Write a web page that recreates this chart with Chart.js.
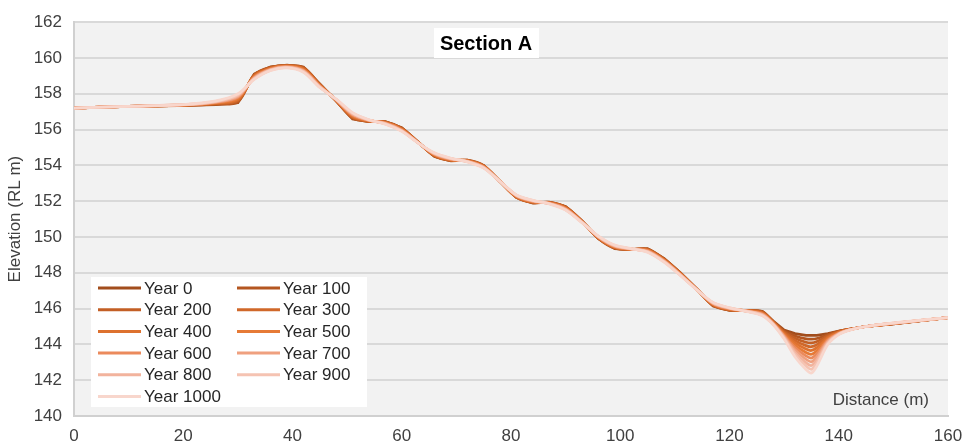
<!DOCTYPE html>
<html>
<head>
<meta charset="utf-8">
<title>Section A</title>
<script src="https://cdn.jsdelivr.net/npm/chart.js@4.4.0/dist/chart.umd.min.js"></script>
<style>
    html, body { margin: 0; padding: 0; background: #ffffff; }
    #wrap { width: 966px; height: 446px; position: relative; }
</style>
</head>
<body>
<div id="wrap"><canvas id="sectionChart"></canvas></div>
<script>
// chainage along the section (m)
const distances = [0, 10, 20, 26, 30, 33, 36, 39, 42, 45, 48, 51, 54, 57, 60, 63, 66, 69, 72, 75, 78, 81, 84, 87, 90, 93, 96, 99, 102, 105, 108, 111, 114, 117, 120, 123, 126, 128, 130, 132, 134, 135, 136, 138, 140, 142, 145, 150, 160];

// elevation (RL m) for each modelled year
const year0 = [157.2, 157.3, 157.35, 157.4, 157.5, 159.1, 159.5, 159.6, 159.5, 158.55, 157.6, 156.6, 156.45, 156.45, 156.1, 155.3, 154.5, 154.25, 154.3, 154.0, 153.1, 152.2, 151.9, 151.95, 151.7, 150.9, 149.9, 149.35, 149.3, 149.35, 148.8, 148.0, 147.1, 146.15, 145.9, 145.9, 145.85, 145.3, 144.8, 144.6, 144.5, 144.5, 144.5, 144.6, 144.75, 144.85, 145.0, 145.15, 145.5];
const year100 = [157.2, 157.3, 157.35, 157.42, 157.55, 159.07, 159.48, 159.59, 159.47, 158.53, 157.61, 156.64, 156.46, 156.44, 156.08, 155.3, 154.52, 154.27, 154.29, 153.99, 153.1, 152.22, 151.92, 151.94, 151.68, 150.89, 149.92, 149.37, 149.3, 149.33, 148.78, 147.99, 147.1, 146.17, 145.92, 145.9, 145.83, 145.28, 144.75, 144.47, 144.31, 144.29, 144.33, 144.54, 144.73, 144.85, 145.0, 145.15, 145.5];
const year200 = [157.2, 157.3, 157.36, 157.44, 157.6, 159.04, 159.46, 159.57, 159.44, 158.51, 157.62, 156.67, 156.47, 156.42, 156.06, 155.29, 154.54, 154.28, 154.28, 153.97, 153.1, 152.23, 151.93, 151.93, 151.66, 150.88, 149.93, 149.39, 149.31, 149.31, 148.76, 147.97, 147.09, 146.19, 145.93, 145.89, 145.8, 145.26, 144.7, 144.34, 144.12, 144.08, 144.16, 144.48, 144.71, 144.84, 145.0, 145.16, 145.5];
const year300 = [157.2, 157.3, 157.36, 157.46, 157.65, 159.01, 159.44, 159.56, 159.41, 158.49, 157.63, 156.71, 156.48, 156.41, 156.04, 155.29, 154.56, 154.3, 154.27, 153.96, 153.1, 152.25, 151.95, 151.92, 151.64, 150.87, 149.95, 149.41, 149.31, 149.29, 148.74, 147.96, 147.09, 146.21, 145.95, 145.89, 145.78, 145.24, 144.65, 144.21, 143.93, 143.87, 143.99, 144.42, 144.69, 144.84, 145.0, 145.16, 145.5];
const year400 = [157.2, 157.3, 157.37, 157.48, 157.7, 158.98, 159.42, 159.54, 159.38, 158.47, 157.64, 156.74, 156.49, 156.39, 156.02, 155.28, 154.58, 154.31, 154.26, 153.94, 153.1, 152.26, 151.96, 151.91, 151.62, 150.86, 149.96, 149.43, 149.32, 149.27, 148.72, 147.94, 147.08, 146.23, 145.96, 145.88, 145.75, 145.22, 144.6, 144.08, 143.74, 143.66, 143.82, 144.36, 144.67, 144.83, 145.0, 145.17, 145.5];
const year500 = [157.2, 157.3, 157.37, 157.5, 157.75, 158.95, 159.4, 159.53, 159.35, 158.45, 157.65, 156.78, 156.5, 156.38, 156.0, 155.28, 154.6, 154.33, 154.25, 153.93, 153.1, 152.28, 151.98, 151.9, 151.6, 150.85, 149.98, 149.45, 149.32, 149.25, 148.7, 147.93, 147.08, 146.25, 145.98, 145.88, 145.73, 145.2, 144.55, 143.95, 143.55, 143.45, 143.65, 144.3, 144.65, 144.83, 145.0, 145.17, 145.5];
const year600 = [157.2, 157.3, 157.38, 157.52, 157.8, 158.92, 159.38, 159.51, 159.32, 158.43, 157.66, 156.81, 156.51, 156.36, 155.98, 155.27, 154.62, 154.34, 154.24, 153.91, 153.1, 152.29, 151.99, 151.89, 151.58, 150.84, 149.99, 149.47, 149.33, 149.23, 148.68, 147.91, 147.07, 146.27, 145.99, 145.87, 145.7, 145.18, 144.5, 143.82, 143.36, 143.24, 143.48, 144.24, 144.63, 144.82, 145.0, 145.18, 145.5];
const year700 = [157.2, 157.3, 157.38, 157.54, 157.85, 158.89, 159.36, 159.5, 159.29, 158.41, 157.67, 156.85, 156.52, 156.35, 155.96, 155.27, 154.64, 154.36, 154.23, 153.9, 153.1, 152.31, 152.01, 151.88, 151.56, 150.83, 150.01, 149.49, 149.33, 149.21, 148.66, 147.9, 147.07, 146.29, 146.01, 145.87, 145.68, 145.16, 144.45, 143.69, 143.17, 143.03, 143.31, 144.18, 144.61, 144.82, 145.0, 145.18, 145.5];
const year800 = [157.2, 157.3, 157.39, 157.56, 157.9, 158.86, 159.34, 159.48, 159.26, 158.39, 157.68, 156.88, 156.53, 156.33, 155.94, 155.26, 154.66, 154.37, 154.22, 153.88, 153.1, 152.32, 152.02, 151.87, 151.54, 150.82, 150.02, 149.51, 149.34, 149.19, 148.64, 147.88, 147.06, 146.31, 146.02, 145.86, 145.65, 145.14, 144.4, 143.56, 142.98, 142.82, 143.14, 144.12, 144.59, 144.81, 145.0, 145.19, 145.5];
const year900 = [157.2, 157.3, 157.39, 157.58, 157.95, 158.83, 159.32, 159.47, 159.23, 158.37, 157.69, 156.92, 156.54, 156.32, 155.92, 155.26, 154.68, 154.39, 154.21, 153.87, 153.1, 152.34, 152.04, 151.86, 151.52, 150.81, 150.04, 149.53, 149.34, 149.17, 148.62, 147.87, 147.06, 146.33, 146.04, 145.86, 145.63, 145.12, 144.35, 143.43, 142.79, 142.61, 142.97, 144.06, 144.57, 144.81, 145.0, 145.19, 145.5];
const year1000 = [157.2, 157.3, 157.4, 157.6, 158.0, 158.8, 159.3, 159.45, 159.2, 158.35, 157.7, 156.95, 156.55, 156.3, 155.9, 155.25, 154.7, 154.4, 154.2, 153.85, 153.1, 152.35, 152.05, 151.85, 151.5, 150.8, 150.05, 149.55, 149.35, 149.15, 148.6, 147.85, 147.05, 146.35, 146.05, 145.85, 145.6, 145.1, 144.3, 143.3, 142.6, 142.4, 142.8, 144.0, 144.55, 144.8, 145.0, 145.2, 145.5];

const yearLabels = ['Year 0', 'Year 100', 'Year 200', 'Year 300', 'Year 400', 'Year 500', 'Year 600', 'Year 700', 'Year 800', 'Year 900', 'Year 1000'];
const yearSeries = [year0, year100, year200, year300, year400, year500, year600, year700, year800, year900, year1000];
const yearColors = ['#a24d1c', '#b45620', '#c35f25', '#d0682a', '#dd712f', '#e67a36', '#eb8a5c', '#efa07f', '#f2b39d', '#f5c3b2', '#f8d6cc'];

const FONT = "'Liberation Sans', Arial, sans-serif";

// grey plot area like the spreadsheet original
const plotBackground = {
    id: 'plotBackground',
    beforeDraw(chart) {
        const { ctx, chartArea } = chart;
        ctx.save();
        ctx.fillStyle = '#f2f2f2';
        ctx.fillRect(chartArea.left, chartArea.top, chartArea.right - chartArea.left, chartArea.bottom - chartArea.top);
        ctx.restore();
    }
};

// title box, legend box and the x axis caption, all inside the plot
const overlays = {
    id: 'overlays',
    afterDatasetsDraw(chart) {
        const ctx = chart.ctx;
        ctx.save();

        // title
        ctx.fillStyle = '#ffffff';
        ctx.fillRect(434, 28, 105, 30);
        ctx.fillStyle = '#000000';
        ctx.font = 'bold 20px ' + FONT;
        ctx.textAlign = 'center';
        ctx.textBaseline = 'middle';
        ctx.fillText('Section A', 486, 44);

        // legend, two columns
        ctx.fillStyle = '#ffffff';
        ctx.fillRect(91, 277, 276, 130);
        ctx.font = '17px ' + FONT;
        ctx.textAlign = 'left';
        ctx.textBaseline = 'middle';
        chart.data.datasets.forEach((ds, i) => {
            const col = i % 2;
            const row = Math.floor(i / 2);
            const x = col === 0 ? 98 : 237;
            const y = 288 + row * 21.7;
            ctx.strokeStyle = ds.borderColor;
            ctx.lineWidth = 3;
            ctx.beginPath();
            ctx.moveTo(x, y);
            ctx.lineTo(x + 43, y);
            ctx.stroke();
            ctx.fillStyle = '#262626';
            ctx.fillText(ds.label, x + 46, y + 1);
        });

        // axis caption
        ctx.fillStyle = '#404040';
        ctx.font = '17px ' + FONT;
        ctx.textAlign = 'right';
        ctx.fillText('Distance (m)', 929, 400);
        ctx.restore();
    }
};

const datasets = yearSeries.map((series, i) => ({
    label: yearLabels[i],
    data: series.map((v, j) => ({ x: distances[j], y: v })),
    borderColor: yearColors[i],
    backgroundColor: yearColors[i],
    borderWidth: 2.75,
    pointRadius: 0,
    tension: i === 0 ? 0 : 0.3,
    order: yearSeries.length - 1 - i,
    fill: false
}));

const ctx = document.getElementById('sectionChart').getContext('2d');
const sectionChart = new Chart(ctx, {
    type: 'line',
    data: { datasets: datasets },
    options: {
        responsive: true,
        maintainAspectRatio: false,
        animation: false,
        layout: {
            padding: { top: 20, right: 18, left: 0, bottom: 0 }
        },
        plugins: {
            legend: { display: false },
            tooltip: { enabled: false }
        },
        scales: {
            x: {
                type: 'linear',
                min: 0,
                max: 160,
                ticks: {
                    stepSize: 20,
                    padding: 10,
                    color: '#404040',
                    font: { family: FONT, size: 17 },
                    maxRotation: 0
                },
                grid: { display: false, drawTicks: false },
                border: { display: true, color: '#d0d0d0', width: 2 },
                afterFit(scale) {
                    scale.height = 30;
                    scale.paddingLeft = 0;
                    scale.paddingRight = 0;
                }
            },
            y: {
                min: 140,
                max: 162,
                ticks: {
                    stepSize: 2,
                    padding: 12,
                    color: '#404040',
                    font: { family: FONT, size: 17 }
                },
                grid: { color: '#d9d9d9', lineWidth: 2, drawTicks: false },
                border: { display: true, color: '#d0d0d0', width: 2 },
                title: {
                    display: true,
                    text: 'Elevation (RL m)',
                    color: '#404040',
                    font: { family: FONT, size: 17 },
                    padding: { top: 5, bottom: 4 }
                },
                afterFit(scale) { scale.width = 74; }
            }
        }
    },
    plugins: [plotBackground, overlays]
});
</script>
</body>
</html>
